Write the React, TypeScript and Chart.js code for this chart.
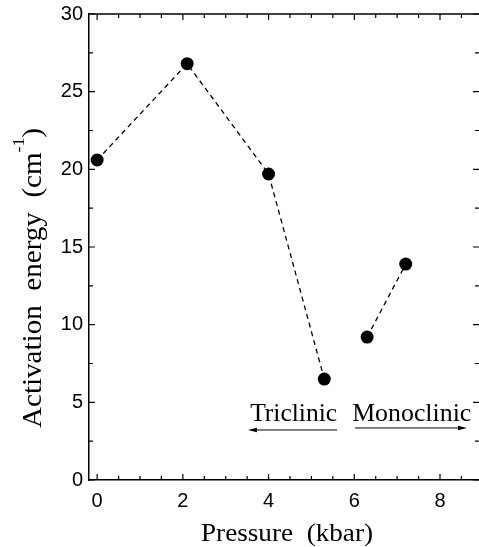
import React, { useEffect, useRef } from 'react';
import { Chart, registerables } from 'chart.js';

Chart.register(...registerables);

// ---- data ----
const triclinicPressure = [0, 2.1, 4.0, 5.3];
const triclinicEnergy = [20.6, 26.8, 19.7, 6.5];
const monoclinicPressure = [6.3, 7.2];
const monoclinicEnergy = [9.2, 13.9];
const xTickValues = [0, 2, 4, 6, 8];
const yTickValues = [0, 5, 10, 15, 20, 25, 30];
const xTitle = 'Pressure  (kbar)';
const yTitleMain = 'Activation  energy  (cm';
const yTitleSup = '-1';
const yTitleEnd = ')';
const phaseNames = ['Triclinic', 'Monoclinic'];

// ---- annotation layout (data units) ----
const phaseTextSpan = [
  [3.57, 5.6],
  [5.95, 8.73],
];
const phaseTextBaseline = 3.8;
const phaseArrows = [
  { from: 5.6, to: 3.52, y: 3.22 },
  { from: 6.02, to: 8.63, y: 3.35 },
];

const SERIF = '"Liberation Serif", "Times New Roman", serif';
const SANS = '"Liberation Sans", Arial, sans-serif';

function fitText(ctx: CanvasRenderingContext2D, text: string, left: number, baseline: number, width: number) {
  const w = ctx.measureText(text).width;
  ctx.save();
  ctx.translate(left, baseline);
  ctx.scale(width / w, 1);
  ctx.textAlign = 'left';
  ctx.textBaseline = 'alphabetic';
  ctx.fillText(text, 0, 0);
  ctx.restore();
}

const framePlugin = {
  id: 'frame',
  afterDraw(chart: any) {
    const { ctx, chartArea, scales } = chart;
    const { left, right, top, bottom } = chartArea;
    const x = scales.x;
    const y = scales.y;
    ctx.save();
    ctx.strokeStyle = '#000';
    ctx.fillStyle = '#000';

    // top frame line
    ctx.lineWidth = 1.5;
    ctx.beginPath();
    ctx.moveTo(left, top);
    ctx.lineTo(right, top);
    ctx.stroke();

    // x ticks (bottom & top), inward
    ctx.lineWidth = 1.2;
    for (let i = 0; i <= 17; i++) {
      const v = i * 0.5;
      const px = x.getPixelForValue(v);
      if (px > right - 1) continue;
      const len = i % 4 === 0 ? 6 : 4;
      ctx.beginPath();
      ctx.moveTo(px, bottom);
      ctx.lineTo(px, bottom - len);
      ctx.moveTo(px, top);
      ctx.lineTo(px, top + len);
      ctx.stroke();
    }
    // y ticks (left & right), inward
    for (let i = 0; i <= 12; i++) {
      const v = i * 2.5;
      const py = y.getPixelForValue(v);
      const len = i % 2 === 0 ? 6 : 4;
      ctx.beginPath();
      ctx.moveTo(left, py);
      ctx.lineTo(left + len, py);
      ctx.moveTo(right, py);
      ctx.lineTo(right - len, py);
      ctx.stroke();
    }

    // phase annotations
    ctx.font = `25px ${SERIF}`;
    phaseNames.forEach((name, i) => {
      const [a, b] = phaseTextSpan[i];
      const xa = x.getPixelForValue(a);
      const xb = x.getPixelForValue(b);
      fitText(ctx, name, xa, y.getPixelForValue(phaseTextBaseline), xb - xa);
    });
    ctx.lineWidth = 1;
    phaseArrows.forEach((ar) => {
      const x0 = x.getPixelForValue(ar.from);
      const x1 = x.getPixelForValue(ar.to);
      const py = y.getPixelForValue(ar.y);
      const dir = Math.sign(x1 - x0);
      ctx.beginPath();
      ctx.moveTo(x0, py);
      ctx.lineTo(x1 - dir * 6, py);
      ctx.stroke();
      ctx.beginPath();
      ctx.moveTo(x1, py);
      ctx.lineTo(x1 - dir * 9, py - 2.2);
      ctx.lineTo(x1 - dir * 9, py + 2.2);
      ctx.closePath();
      ctx.fill();
    });

    // x title
    ctx.font = `25px ${SERIF}`;
    const xcx = (left + right) / 2 + 3;
    fitText(ctx, xTitle, xcx - 86, 541, 172);

    // y title (rotated, with superscript)
    const mainFont = `28px ${SERIF}`;
    const supFont = `17px ${SERIF}`;
    ctx.font = mainFont;
    const wMain = ctx.measureText(yTitleMain).width;
    const wEnd = ctx.measureText(yTitleEnd).width;
    ctx.font = supFont;
    const wSup = ctx.measureText(yTitleSup).width;
    const total = wMain + wSup + wEnd;
    const target = 300;
    const cy = (top + bottom) / 2 + 31;
    ctx.save();
    ctx.translate(41, cy);
    ctx.rotate(-Math.PI / 2);
    ctx.scale(target / total, 1);
    ctx.textAlign = 'left';
    ctx.textBaseline = 'alphabetic';
    let cx = -total / 2;
    ctx.font = mainFont;
    ctx.fillText(yTitleMain, cx, 0);
    cx += wMain;
    ctx.font = supFont;
    ctx.fillText(yTitleSup, cx, -17);
    cx += wSup;
    ctx.font = mainFont;
    ctx.fillText(yTitleEnd, cx, 0);
    ctx.restore();

    ctx.restore();
  },
};

export default function App() {
  const canvasRef = useRef<HTMLCanvasElement | null>(null);

  useEffect(() => {
    if (!canvasRef.current) return;
    const lineStyle = {
      showLine: true,
      borderColor: '#000',
      borderWidth: 1.3,
      borderDash: [5, 4],
      pointRadius: 6.5,
      pointBackgroundColor: '#000',
      pointBorderColor: '#000',
      pointBorderWidth: 0,
      fill: false,
    };
    const chart = new Chart(canvasRef.current, {
      type: 'scatter',
      data: {
        datasets: [
          {
            label: 'Triclinic',
            data: triclinicPressure.map((p, i) => ({ x: p, y: triclinicEnergy[i] })),
            ...lineStyle,
          },
          {
            label: 'Monoclinic',
            data: monoclinicPressure.map((p, i) => ({ x: p, y: monoclinicEnergy[i] })),
            ...lineStyle,
          },
        ],
      },
      options: {
        animation: false,
        responsive: true,
        maintainAspectRatio: false,
        layout: { autoPadding: false, padding: { left: 0, top: 14, right: 0, bottom: 0 } },
        plugins: {
          legend: { display: false },
          tooltip: { enabled: false },
        },
        scales: {
          x: {
            type: 'linear',
            min: -0.19,
            max: 8.91,
            afterBuildTicks: (s: any) => {
              s.ticks = xTickValues.map((v) => ({ value: v }));
            },
            ticks: {
              font: { family: SANS, size: 20 },
              color: '#000',
              padding: 9,
              maxRotation: 0,
              autoSkip: false,
            },
            grid: { display: false, drawTicks: false },
            border: { display: true, color: '#000', width: 1.5 },
            afterFit: (s: any) => {
              s.height = 67;
              s.paddingLeft = 0;
              s.paddingRight = 0;
            },
          },
          y: {
            type: 'linear',
            min: 0,
            max: 30,
            afterBuildTicks: (s: any) => {
              s.ticks = yTickValues.map((v) => ({ value: v }));
            },
            ticks: {
              font: { family: SANS, size: 20 },
              color: '#000',
              padding: 6,
              autoSkip: false,
            },
            grid: { display: false, drawTicks: false },
            border: { display: true, color: '#000', width: 1.5 },
            afterFit: (s: any) => {
              s.width = 89;
              s.paddingTop = 0;
              s.paddingBottom = 0;
            },
          },
        },
      },
      plugins: [framePlugin],
    } as any);
    return () => chart.destroy();
  }, []);

  return (
    <div style={{ position: 'absolute', left: 0, top: 0, width: 479, height: 547, background: '#fff' }}>
      <canvas ref={canvasRef} />
    </div>
  );
}
